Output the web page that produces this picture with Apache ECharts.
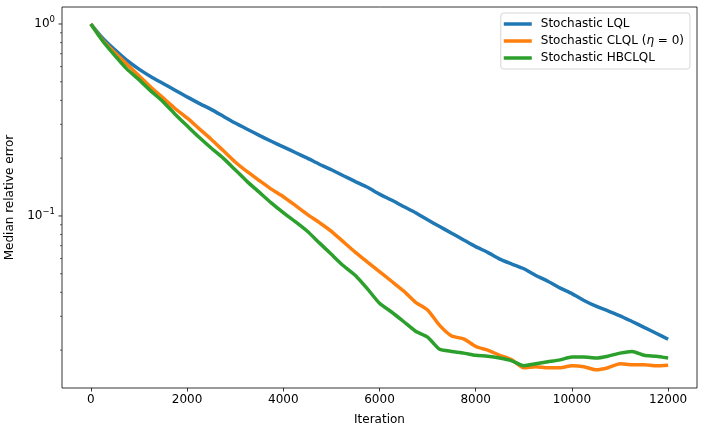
<!DOCTYPE html>
<html>
<head>
<meta charset="utf-8">
<script src="https://cdn.jsdelivr.net/npm/echarts@6/dist/echarts.min.js"></script>
<style>
  html, body { margin: 0; padding: 0; background: #fff; }
  #chart { width: 702px; height: 431px; }
</style>
</head>
<body>
<div id="chart"></div>
<script>
// iterations (every 250)
const iters = []
for (let i = 0; i <= 12000; i += 250) iters.push(i)

const lql = [
  1, 0.841, 0.733, 0.646, 0.582, 0.531, 0.490, 0.452, 0.417, 0.386,
  0.359, 0.331, 0.305, 0.283, 0.263, 0.245, 0.229, 0.214, 0.200, 0.186,
  0.174, 0.162, 0.151, 0.141, 0.130, 0.121, 0.112, 0.104, 0.0955, 0.0881,
  0.0813, 0.0750, 0.0692, 0.0646, 0.0596, 0.0562, 0.0531, 0.0490, 0.0457, 0.0422,
  0.0394, 0.0363, 0.0339, 0.0320, 0.0302, 0.0282, 0.0263, 0.0245, 0.0228
]
const clql = [
  1, 0.822, 0.708, 0.617, 0.537, 0.468, 0.412, 0.363, 0.324, 0.285,
  0.251, 0.219, 0.191, 0.170, 0.153, 0.138, 0.126, 0.1135, 0.102, 0.0923,
  0.0832, 0.0733, 0.0646, 0.0575, 0.0513, 0.0457, 0.0407, 0.0355, 0.0324, 0.0269,
  0.0237, 0.0229, 0.0209, 0.0200, 0.0188, 0.0178, 0.0162, 0.0164, 0.0162, 0.0162,
  0.0166, 0.0164, 0.0158, 0.0162, 0.0170, 0.0168, 0.0168, 0.0166, 0.0167
]
const hbclql = [
  1, 0.813, 0.684, 0.582, 0.513, 0.447, 0.394, 0.339, 0.295, 0.257,
  0.226, 0.200, 0.174, 0.151, 0.133, 0.117, 0.104, 0.0933, 0.0832, 0.0724,
  0.0631, 0.0550, 0.0490, 0.0417, 0.0351, 0.0316, 0.0282, 0.0251, 0.0234, 0.0202,
  0.0197, 0.0193, 0.0188, 0.0186, 0.0182, 0.0176, 0.0166, 0.0170, 0.0174, 0.0178,
  0.0184, 0.0184, 0.0182, 0.0186, 0.0193, 0.0197, 0.0188, 0.0186, 0.0182
]

const names = ['Stochastic LQL', 'Stochastic CLQL (η = 0)', 'Stochastic HBCLQL']
const colors = ['#1f77b4', '#ff7f0e', '#2ca02c']

const xTicks = [0, 2000, 4000, 6000, 8000, 10000, 12000]
const yMajor = [0.1, 1]
const yMinor = [0.02, 0.03, 0.04, 0.05, 0.06, 0.07, 0.08, 0.09, 0.2, 0.3, 0.4, 0.5, 0.6, 0.7, 0.8, 0.9]

const xMin = -600
const xMax = 12600
const yMin = 0.0127
const yMax = 1.226

const font = 'DejaVu Sans'

function pairs(ys) {
  return iters.map((x, i) => [x, ys[i]])
}

// y ticks drawn as short lines left of the axis
function tickSeries(values, len, width) {
  return {
    type: 'custom',
    silent: true,
    clip: false,
    z: 5,
    data: values.map(v => [xMin, v]),
    renderItem(params, api) {
      const p = api.coord([api.value(0), api.value(1)])
      return {
        type: 'line',
        shape: { x1: p[0] - len, y1: p[1], x2: p[0], y2: p[1] },
        style: { stroke: '#000', lineWidth: width }
      }
    }
  }
}

function lineSeries(i, ys) {
  return {
    name: names[i], type: 'line', data: pairs(ys), showSymbol: false, symbol: 'none',
    smooth: 0.2, color: colors[i], lineStyle: { width: 3.5, color: colors[i] }, z: 2 + i
  }
}

const chart = echarts.init(document.getElementById('chart'))
chart.setOption({
  animation: false,
  textStyle: { fontFamily: font },
  grid: {
    left: 62, right: 5, top: 7, bottom: 43,
    outerBoundsMode: 'none',
    containLabel: false,
    show: true, borderColor: '#000', borderWidth: 0.8, backgroundColor: 'transparent'
  },
  legend: {
    orient: 'vertical',
    right: 12,
    top: 13,
    padding: [5, 6, 5, 3],
    itemGap: 5,
    itemWidth: 28,
    itemHeight: 3.5,
    icon: 'rect',
    backgroundColor: 'rgba(255,255,255,0.8)',
    borderColor: '#cccccc',
    borderWidth: 0.8,
    borderRadius: 3,
    data: names,
    formatter(name) {
      if (name.indexOf('η') >= 0) return '{n|Stochastic CLQL (}{i|η}{n| = 0)}'
      return '{n|' + name + '}'
    },
    textStyle: {
      fontFamily: font,
      fontSize: 12,
      color: '#000',
      padding: [0, 0, 0, 4],
      rich: {
        n: { fontFamily: font, fontSize: 12, color: '#000' },
        i: { fontFamily: font, fontSize: 12, color: '#000', fontStyle: 'italic' }
      }
    }
  },
  xAxis: {
    type: 'value',
    min: xMin,
    max: xMax,
    name: 'Iteration',
    nameLocation: 'middle',
    nameGap: 26,
    nameTextStyle: { fontFamily: font, fontSize: 12, color: '#000' },
    axisLine: { show: false },
    splitLine: { show: false },
    axisTick: { show: true, length: 3.5, customValues: xTicks, lineStyle: { color: '#000', width: 0.8 } },
    axisLabel: {
      customValues: xTicks, margin: 6, fontFamily: font, fontSize: 12, color: '#000',
      formatter: v => String(v)
    }
  },
  yAxis: {
    type: 'log',
    logBase: 10,
    min: yMin,
    max: yMax,
    name: 'Median relative error',
    nameLocation: 'middle',
    nameGap: 42,
    nameTextStyle: { fontFamily: font, fontSize: 12, color: '#000' },
    axisLine: { show: false },
    splitLine: { show: false },
    axisTick: { show: false },
    axisLabel: {
      margin: 7,
      fontFamily: font,
      color: '#000',
      formatter(v) {
        const e = Math.log10(v)
        if (Math.abs(e - Math.round(e)) > 1e-6) return ''
        const k = Math.round(e)
        return '{b|10}{s|' + (k < 0 ? '\u2212' + (-k) : k) + '}'
      },
      rich: {
        b: { fontFamily: font, fontSize: 12, color: '#000' },
        s: { fontFamily: font, fontSize: 8.5, color: '#000', padding: [0, 0, 8, 0] }
      }
    }
  },
  series: [
    lineSeries(0, lql),
    lineSeries(1, clql),
    lineSeries(2, hbclql),
    tickSeries(yMajor, 3.5, 0.8),
    tickSeries(yMinor, 2, 0.6)
  ]
})
</script>
</body>
</html>
